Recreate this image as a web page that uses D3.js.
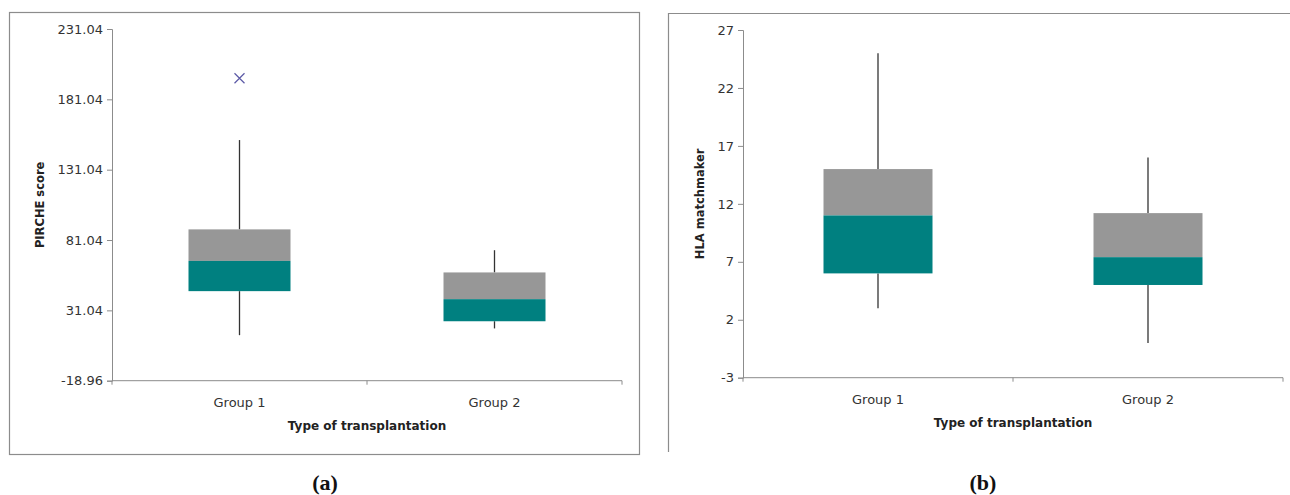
<!DOCTYPE html>
<html>
<head>
<meta charset="utf-8">
<script src="https://cdn.jsdelivr.net/npm/d3@7"></script>
<style>
  body { margin: 0; background: #fff; }
  svg { display: block; }
  .tick text { font-family: "DejaVu Sans", Verdana, sans-serif; font-size: 13px; fill: #333; }
</style>
</head>
<body>
<svg id="chart" width="1290" height="495"></svg>
<script>
  // Categories and box stats
  var groups = ['Group 1', 'Group 2'];

  // (a) PIRCHE score
  var pircheMin    = [13.4, 18.2];
  var pircheQ1     = [44.7, 23.3];
  var pircheMedian = [66.2, 39.0];
  var pircheQ3     = [88.6, 58.0];
  var pircheMax    = [152.1, 73.8];
  var pircheOutliers = [{ group: 'Group 1', value: 196.0 }];
  var pircheTicks  = [-18.96, 31.04, 81.04, 131.04, 181.04, 231.04];

  // (b) HLA matchmaker
  var hlaMin    = [3, 0];
  var hlaQ1     = [6, 5];
  var hlaMedian = [11, 7.4];
  var hlaQ3     = [15, 11.2];
  var hlaMax    = [25, 16];
  var hlaOutliers = [];
  var hlaTicks  = [-3, 2, 7, 12, 17, 22, 27];

  var svg = d3.select('#chart');

  function drawPanel(opt) {
    var g = svg.append('g');

    // frame
    if (opt.frame === 'full') {
      g.append('rect').attr('x', opt.frameX + 0.5).attr('y', opt.frameY + 0.5)
        .attr('width', opt.frameW).attr('height', opt.frameH)
        .attr('fill', 'none').attr('stroke', '#8c8c8c').attr('stroke-width', 1.2);
    } else {
      g.append('path')
        .attr('d', 'M' + (opt.frameX + 0.5) + ',' + (opt.frameY + opt.frameH) +
          'V' + (opt.frameY + 0.5) + 'H1290')
        .attr('fill', 'none').attr('stroke', '#8c8c8c').attr('stroke-width', 1.2);
    }

    var y = d3.scaleLinear().domain(opt.domain).range([opt.bottom, opt.top]);
    var x = d3.scaleBand().domain(groups).range([opt.left, opt.right]);

    // y axis (plain hyphen for negatives, like the original)
    var yAxis = d3.axisLeft(y).tickValues(opt.ticks).tickSize(5).tickPadding(4)
      .tickFormat(function (d) { return opt.fmt(d).replace('\u2212', '-'); });
    var ya = g.append('g').attr('transform', 'translate(' + opt.left + ',0)').call(yAxis);
    ya.select('.domain').attr('stroke', '#8c8c8c');
    ya.selectAll('.tick line').attr('stroke', '#8c8c8c');

    // x axis with ticks between categories
    var xa = g.append('g').attr('transform', 'translate(0,' + opt.bottom + ')');
    xa.append('line').attr('x1', opt.left).attr('x2', opt.right)
      .attr('stroke', '#8c8c8c');
    var edges = [opt.left].concat(groups.map(function (k) { return x(k) + x.bandwidth(); }));
    edges.forEach(function (e) {
      xa.append('line').attr('x1', e).attr('x2', e).attr('y1', 0).attr('y2', 4)
        .attr('stroke', '#8c8c8c');
    });
    groups.forEach(function (k) {
      xa.append('text').attr('x', x(k) + x.bandwidth() / 2).attr('y', 26)
        .attr('text-anchor', 'middle')
        .style('font-family', '"DejaVu Sans", Verdana, sans-serif')
        .style('font-size', '13px').style('fill', '#333')
        .text(k);
    });

    // boxes
    groups.forEach(function (k, i) {
      var cx = x(k) + x.bandwidth() / 2;
      var bw = opt.boxW;
      g.append('line').attr('x1', cx).attr('x2', cx)
        .attr('y1', y(opt.max[i])).attr('y2', y(opt.q3[i]))
        .attr('stroke', '#333').attr('stroke-width', 1.3);
      g.append('line').attr('x1', cx).attr('x2', cx)
        .attr('y1', y(opt.q1[i])).attr('y2', y(opt.min[i]))
        .attr('stroke', '#333').attr('stroke-width', 1.3);
      g.append('rect').attr('x', cx - bw / 2).attr('width', bw)
        .attr('y', y(opt.q3[i])).attr('height', y(opt.median[i]) - y(opt.q3[i]))
        .attr('fill', '#979797');
      g.append('rect').attr('x', cx - bw / 2).attr('width', bw)
        .attr('y', y(opt.median[i])).attr('height', y(opt.q1[i]) - y(opt.median[i]))
        .attr('fill', '#008080');
    });

    // outliers as x marks
    opt.outliers.forEach(function (o) {
      var cx = x(o.group) + x.bandwidth() / 2, cy = y(o.value), s = 5;
      g.append('path')
        .attr('d', 'M' + (cx - s) + ',' + (cy - s) + 'L' + (cx + s) + ',' + (cy + s) +
          'M' + (cx - s) + ',' + (cy + s) + 'L' + (cx + s) + ',' + (cy - s))
        .attr('stroke', '#5c5aa6').attr('stroke-width', 1.2);
    });

    // axis titles
    g.append('text')
      .attr('x', (opt.left + opt.right) / 2).attr('y', opt.bottom + 49)
      .attr('text-anchor', 'middle')
      .style('font-family', '"DejaVu Sans", Verdana, sans-serif')
      .style('font-size', '12px').style('font-weight', 'bold').style('fill', '#222')
      .text('Type of transplantation');
    g.append('text')
      .attr('transform', 'translate(' + opt.yLabelX + ',' + ((opt.top + opt.bottom) / 2) + ') rotate(-90)')
      .attr('text-anchor', 'middle').attr('dy', '0.35em')
      .style('font-family', '"DejaVu Sans", Verdana, sans-serif')
      .style('font-size', '11.5px').style('font-weight', 'bold').style('fill', '#222')
      .text(opt.yLabel);

    // panel letter
    g.append('text').attr('x', opt.letterX).attr('y', 490)
      .attr('text-anchor', 'middle')
      .style('font-family', '"Liberation Serif", "Times New Roman", serif')
      .style('font-size', '22px').style('font-weight', 'bold').style('fill', '#111')
      .text(opt.letter);
  }

  drawPanel({
    frame: 'full', frameX: 9, frameY: 12, frameW: 630, frameH: 442,
    left: 112, right: 622, top: 29, bottom: 380.7,
    domain: [-18.96, 231.04], ticks: pircheTicks,
    fmt: d3.format('.2f'),
    min: pircheMin, q1: pircheQ1, median: pircheMedian, q3: pircheQ3, max: pircheMax,
    outliers: pircheOutliers, boxW: 102,
    yLabel: 'PIRCHE score', yLabelX: 40, letter: '(a)', letterX: 325
  });

  drawPanel({
    frame: 'open', frameX: 668, frameY: 13, frameW: 622, frameH: 439,
    left: 743, right: 1283, top: 30, bottom: 377.7,
    domain: [-3, 27], ticks: hlaTicks,
    fmt: d3.format('d'),
    min: hlaMin, q1: hlaQ1, median: hlaMedian, q3: hlaQ3, max: hlaMax,
    outliers: hlaOutliers, boxW: 109,
    yLabel: 'HLA matchmaker', yLabelX: 700, letter: '(b)', letterX: 983
  });
</script>
</body>
</html>
